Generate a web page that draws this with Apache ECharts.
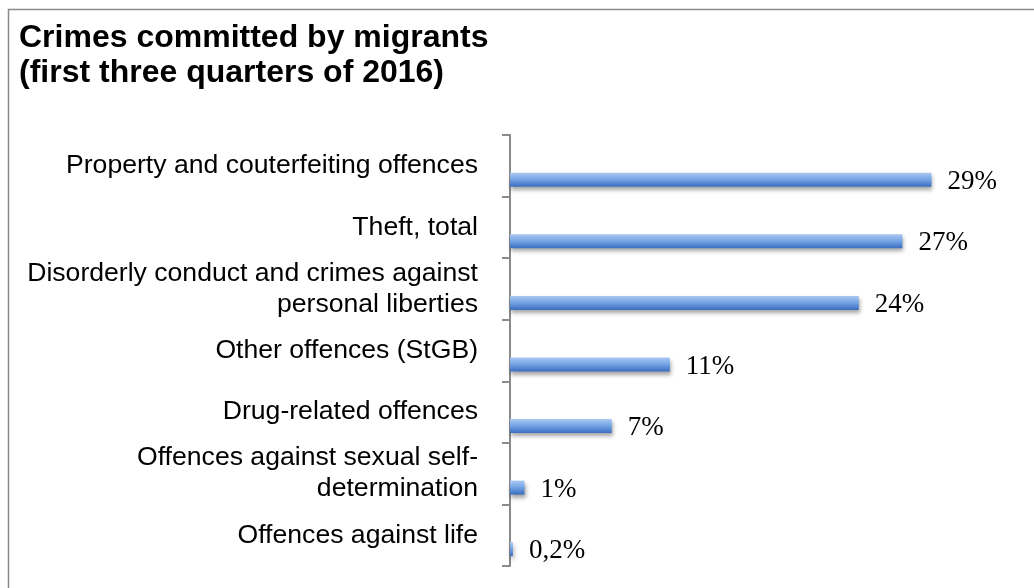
<!DOCTYPE html>
<html>
<head>
<meta charset="utf-8">
<script src="https://cdn.jsdelivr.net/npm/echarts@6/dist/echarts.min.js"></script>
<style>
html,body{margin:0;padding:0;background:#fff;}
#chart{width:1034px;height:588px;}
</style>
</head>
<body>
<div id="chart"></div>
<script>
var titleText = 'Crimes committed by migrants\n(first three quarters of 2016)';
var categories = [
  'Property and couterfeiting offences',
  'Theft, total',
  'Disorderly conduct and crimes against\npersonal liberties',
  'Other offences (StGB)',
  'Drug-related offences',
  'Offences against sexual self-\ndetermination',
  'Offences against life'
];
var shares = [29, 27, 24, 11, 7, 1, 0.2];
var shareLabels = ['29%', '27%', '24%', '11%', '7%', '1%', '0,2%'];
var emptySlot = [null, null, null, null, null, null, null];

var chart = echarts.init(document.getElementById('chart'), null, {renderer: 'canvas'});
chart.setOption({
  animation: false,
  backgroundColor: '#ffffff',
  graphic: [{
    type: 'rect',
    shape: {x: 8.5, y: 9.5, width: 1200, height: 800},
    style: {fill: 'none', stroke: '#8a8a8a', lineWidth: 1.5},
    silent: true
  }],
  title: {
    text: titleText,
    left: 19,
    top: 21,
    padding: 0,
    textStyle: {fontFamily: 'Liberation Sans, Arial, sans-serif', fontWeight: 'bold', fontSize: 32, lineHeight: 35, color: '#000'}
  },
  grid: {left: 510, top: 135, bottom: 22, right: 88, containLabel: false},
  xAxis: {
    type: 'value', min: 0, max: 30, show: false
  },
  yAxis: {
    type: 'category',
    inverse: true,
    data: categories,
    axisLine: {show: true, lineStyle: {color: '#8a8a8a', width: 2}},
    axisTick: {show: true, length: 8, lineStyle: {color: '#8a8a8a', width: 2}},
    axisLabel: {
      margin: 32,
      fontFamily: 'Liberation Sans, Arial, sans-serif',
      fontSize: 26.6, lineHeight: 31, color: '#000', align: 'right'
    },
    splitLine: {show: false}
  },
  series: [
    {
      type: 'bar', name: 'slot', data: emptySlot, barWidth: 14, barGap: '100%', silent: true
    },
    {
      type: 'bar', name: 'share', data: shares, barWidth: 14,
      itemStyle: {
        color: new echarts.graphic.LinearGradient(0, 0, 0, 1, [
          {offset: 0, color: '#a9c8f2'},
          {offset: 0.45, color: '#77a6e6'},
          {offset: 1, color: '#3a6dbf'}
        ]),
        shadowColor: 'rgba(0,0,0,0.35)', shadowBlur: 4, shadowOffsetY: 3, shadowOffsetX: 1
      },
      label: {
        show: true, position: 'right', distance: 16, offset: [0, 2],
        fontFamily: 'Liberation Serif, Times New Roman, serif', fontSize: 27, color: '#000',
        formatter: function (p) { return shareLabels[p.dataIndex]; }
      }
    }
  ]
});
</script>
</body>
</html>
